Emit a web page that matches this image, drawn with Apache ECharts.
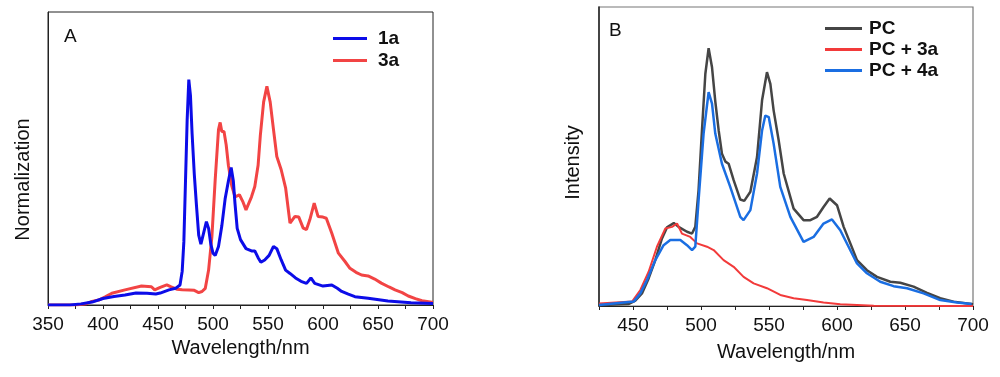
<!DOCTYPE html>
<html>
<head>
<meta charset="utf-8">
<script src="https://cdn.jsdelivr.net/npm/echarts@6/dist/echarts.min.js"></script>
<style>
  html, body { margin: 0; padding: 0; background: #fff; }
  #chart { width: 1000px; height: 377px; }
</style>
</head>
<body>
<div id="chart"></div>
<script>
// panel A - normalized emission, 1a and 3a
var waveA1 = [350, 370, 380, 390, 400, 410, 420, 430, 440, 448, 452, 460, 466, 470, 472, 473.5, 475, 476.5, 478, 479.5, 481, 483, 485, 487, 489, 492, 494, 496, 498, 500, 502, 505, 508, 511, 514, 516.5, 518.5, 520, 522, 525, 530, 535, 538, 541, 543.5, 547, 551, 555, 558, 562, 566, 570, 575, 580, 585, 589, 592.5, 600, 608, 613, 617, 623, 629, 641, 659, 680, 700];
var valA1 = [0, 0, 0.005, 0.013, 0.029, 0.038, 0.044, 0.053, 0.052, 0.049, 0.053, 0.067, 0.074, 0.089, 0.15, 0.28, 0.55, 0.82, 1.0, 0.93, 0.76, 0.58, 0.44, 0.31, 0.27, 0.33, 0.37, 0.34, 0.27, 0.23, 0.22, 0.26, 0.35, 0.47, 0.55, 0.61, 0.55, 0.45, 0.34, 0.29, 0.25, 0.24, 0.24, 0.21, 0.19, 0.2, 0.22, 0.26, 0.25, 0.2, 0.155, 0.14, 0.12, 0.105, 0.096, 0.12, 0.096, 0.084, 0.089, 0.074, 0.06, 0.048, 0.037, 0.03, 0.018, 0.01, 0.007];

var waveA3 = [350, 375, 385, 390, 396, 402, 408, 420, 435, 444, 447, 452, 458, 462, 467, 472, 478, 483, 487, 490, 493, 496, 499, 502, 505, 506.5, 508, 510, 512, 514, 517, 520, 524, 527, 530, 535, 538, 541, 543, 546, 549, 552, 555, 558, 562, 566, 570, 574.5, 578, 582, 585, 588, 592, 595.5, 600, 603, 608, 614, 620, 624.5, 630, 635, 641, 647, 653, 660, 665.5, 672, 677.5, 684, 690, 699, 700];
var valA3 = [0, 0, 0.006, 0.016, 0.022, 0.036, 0.052, 0.067, 0.084, 0.081, 0.067, 0.078, 0.089, 0.08, 0.07, 0.068, 0.067, 0.065, 0.055, 0.06, 0.074, 0.155, 0.303, 0.556, 0.778, 0.81, 0.77, 0.77, 0.71, 0.62, 0.53, 0.48, 0.489, 0.46, 0.422, 0.48, 0.526, 0.62, 0.75, 0.9, 0.97, 0.9, 0.778, 0.659, 0.6, 0.52, 0.363, 0.393, 0.39, 0.341, 0.335, 0.378, 0.452, 0.393, 0.39, 0.385, 0.318, 0.23, 0.193, 0.163, 0.145, 0.133, 0.129, 0.115, 0.097, 0.08, 0.067, 0.055, 0.04, 0.028, 0.019, 0.012, 0.012];

// panel B - intensity, PC, PC + 3a, PC + 4a
var wavePC = [425, 427, 447, 451.7, 456.6, 461.5, 466.4, 471.3, 475, 480, 483.5, 489.7, 493.4, 495.8, 498.2, 500.7, 503.2, 505.6, 508.1, 510.5, 513, 515.4, 518, 520.3, 524, 528.9, 531.8, 536.3, 541.2, 544.9, 548.5, 551, 553.4, 557.1, 560.8, 568.1, 575.4, 580.4, 585.3, 590.1, 594.6, 600, 604.9, 609.8, 614.7, 622, 629.4, 639.2, 646.5, 656.3, 666.2, 675.9, 685.7, 699, 700];
var valPC = [0.2, 0.4, 0.8, 2.1, 4.9, 10.7, 17.8, 26.2, 30.5, 32.2, 30.7, 28.8, 28.1, 30.7, 44.9, 68.1, 90.1, 100, 92.6, 79.4, 68.1, 59.1, 56, 55.2, 48.8, 41.3, 40.8, 44.3, 57.8, 79.8, 90.7, 86.2, 75.9, 64.3, 51.4, 37.8, 33.3, 33.3, 34.6, 38.4, 41.7, 39.1, 30.7, 24.3, 17.8, 13.9, 11.3, 9.4, 9.0, 7.5, 5.1, 3.0, 1.7, 0.8, 0.7];

var wavePC3 = [425, 449.3, 455.4, 461.5, 467.6, 473.8, 478.7, 482.4, 486, 492.1, 497.1, 504.4, 509.3, 516.6, 524, 531.3, 538.7, 548.5, 558.3, 568.1, 577.9, 590.1, 602.4, 627, 700];
var valPC3 = [1.0, 1.7, 6.2, 13.3, 23.0, 30.1, 30.7, 32.0, 28.1, 26.8, 24.3, 23.0, 21.7, 17.8, 15.2, 11.3, 8.8, 6.9, 4.3, 3.0, 2.3, 1.4, 0.7, 0.1, 0];

var wavePC4 = [425, 450.5, 455.4, 460.3, 466.4, 472.5, 477.4, 484.8, 489.7, 493.4, 495.8, 498.2, 501.9, 505.6, 508.1, 510.5, 515.4, 521.5, 528.9, 531.3, 536.3, 541.2, 544.9, 547.3, 549.8, 553.4, 558.3, 565.7, 575.4, 582.8, 590.1, 596.3, 602.4, 608.5, 614.7, 622, 631.8, 641.6, 651.5, 663.7, 675.9, 688.2, 699];
var valPC4 = [0.4, 1.7, 4.9, 10.1, 17.8, 23.6, 25.6, 25.6, 23.6, 21.7, 23.0, 41.0, 66.9, 83.0, 78.5, 66.9, 55.2, 46.2, 34.6, 33.3, 37.2, 51.4, 68.1, 73.9, 73.3, 63.0, 46.2, 34.6, 24.9, 26.8, 32.0, 33.6, 29.4, 23.0, 16.5, 12.7, 9.4, 7.7, 6.9, 4.9, 2.3, 1.4, 0.8];

function zip(xs, ys) {
  return xs.map(function (x, i) { return [x, ys[i]]; });
}

var font = "'Liberation Sans', Arial, sans-serif";

function everyFifty(v) {
  return v % 50 === 0 ? String(v) : '';
}

var chart = echarts.init(document.getElementById('chart'));

var option = {
  animation: false,
  textStyle: { fontFamily: font },
  title: [
    { text: 'A', left: 64, top: 27, padding: 0, textStyle: { fontSize: 19, fontWeight: 'normal', color: '#111', fontFamily: font } },
    { text: 'B', left: 609, top: 21, padding: 0, textStyle: { fontSize: 19, fontWeight: 'normal', color: '#111', fontFamily: font } }
  ],
  legend: [
    {
      data: ['1a', '3a'],
      orient: 'vertical',
      left: 333, top: 29,
      icon: 'rect',
      itemWidth: 34, itemHeight: 3, itemGap: 3,
      padding: 0,
      textStyle: { fontSize: 19, fontWeight: 'bold', color: '#111', fontFamily: font, padding: [0, 0, 0, 6] }
    },
    {
      data: ['PC', 'PC + 3a', 'PC + 4a'],
      orient: 'vertical',
      left: 825, top: 19,
      icon: 'rect',
      itemWidth: 37, itemHeight: 3, itemGap: 2,
      padding: 0,
      textStyle: { fontSize: 19, fontWeight: 'bold', color: '#111', fontFamily: font, padding: [0, 0, 0, 2] }
    }
  ],
  grid: [
    { left: 48, right: 567, top: 12, bottom: 72, show: true, borderColor: '#222', borderWidth: 1 },
    { left: 599, right: 27, top: 7, bottom: 71, show: true, borderColor: '#777', borderWidth: 1.2 }
  ],
  xAxis: [
    {
      gridIndex: 0, type: 'value', min: 350, max: 700, interval: 25,
      name: 'Wavelength/nm', nameLocation: 'middle', nameGap: 31,
      nameTextStyle: { fontSize: 20, color: '#111', fontFamily: font },
      axisLine: { lineStyle: { color: '#222', width: 1 } },
      axisTick: { length: 4, lineStyle: { color: '#222' } },
      axisLabel: { fontSize: 19, color: '#111', margin: 10, formatter: everyFifty },
      splitLine: { show: false }
    },
    {
      gridIndex: 1, type: 'value', min: 425, max: 700, interval: 25,
      name: 'Wavelength/nm', nameLocation: 'middle', nameGap: 36,
      nameTextStyle: { fontSize: 20, color: '#111', fontFamily: font },
      axisLine: { lineStyle: { color: '#222', width: 1.2 } },
      axisTick: { length: 4, lineStyle: { color: '#222' } },
      axisLabel: { fontSize: 19, color: '#111', margin: 10, formatter: everyFifty },
      splitLine: { show: false }
    }
  ],
  yAxis: [
    {
      gridIndex: 0, type: 'value', min: 0, max: 1.3,
      name: 'Normalization', nameLocation: 'middle', nameGap: 15,
      nameTextStyle: { fontSize: 20, color: '#111', fontFamily: font, padding: [0, 42, 0, 0] },
      axisLine: { show: true, lineStyle: { color: '#222', width: 1 } },
      axisTick: { show: false }, axisLabel: { show: false }, splitLine: { show: false }
    },
    {
      gridIndex: 1, type: 'value', min: 0, max: 116,
      name: 'Intensity', nameLocation: 'middle', nameGap: 16,
      nameTextStyle: { fontSize: 20, color: '#111', fontFamily: font, padding: [0, 12, 0, 0] },
      axisLine: { show: true, lineStyle: { color: '#222', width: 1.5 } },
      axisTick: { show: false }, axisLabel: { show: false }, splitLine: { show: false }
    }
  ],
  series: [
    { name: '1a', type: 'line', xAxisIndex: 0, yAxisIndex: 0, data: zip(waveA1, valA1), symbol: 'none', color: '#0c0ce8', lineStyle: { width: 3 }, z: 3 },
    { name: '3a', type: 'line', xAxisIndex: 0, yAxisIndex: 0, data: zip(waveA3, valA3), symbol: 'none', color: '#f24444', lineStyle: { width: 3 }, z: 2 },
    { name: 'PC', type: 'line', xAxisIndex: 1, yAxisIndex: 1, data: zip(wavePC, valPC), symbol: 'none', color: '#454545', lineStyle: { width: 2.5 }, z: 2 },
    { name: 'PC + 3a', type: 'line', xAxisIndex: 1, yAxisIndex: 1, data: zip(wavePC3, valPC3), symbol: 'none', color: '#f23a3a', lineStyle: { width: 2 }, z: 3 },
    { name: 'PC + 4a', type: 'line', xAxisIndex: 1, yAxisIndex: 1, data: zip(wavePC4, valPC4), symbol: 'none', color: '#1a6ee2', lineStyle: { width: 2.5 }, z: 4 }
  ]
};

chart.setOption(option);
</script>
</body>
</html>
